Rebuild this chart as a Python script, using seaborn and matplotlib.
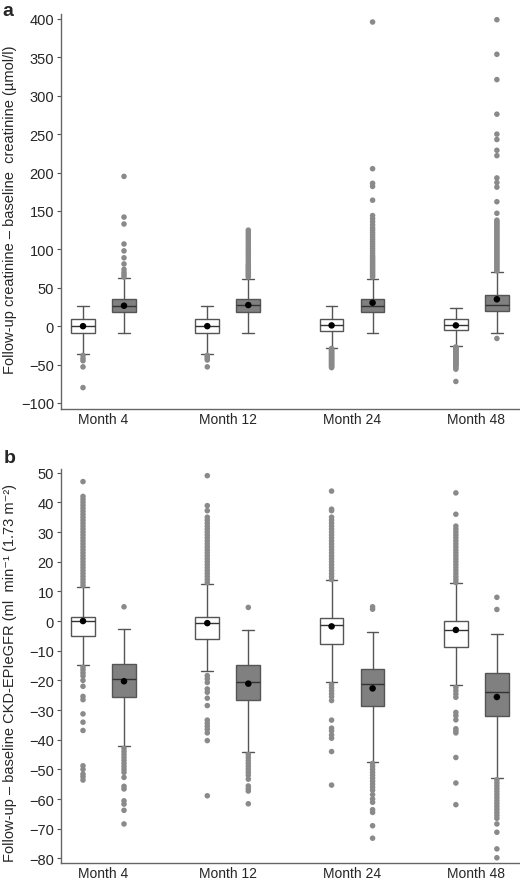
import numpy as np
import pandas as pd
import seaborn as sns
import matplotlib.pyplot as plt

months = ["Month 4", "Month 12", "Month 24", "Month 48"]

# panel a: follow-up - baseline creatinine (umol/l)
# open boxes
cr_open_q1 = [-8.7, -8.7, -6.0, -5.6]
cr_open_med = [0.0, 0.0, 1.0, 1.0]
cr_open_q3 = [9.0, 9.0, 9.0, 9.0]
cr_open_lo = [-35.6, -35.6, -28.0, -25.6]
cr_open_hi = [26.6, 26.6, 26.6, 23.5]
cr_open_mean = [0.0, 0.0, 1.0, 1.0]
cr_open_out = [
    [-38, -42, -45, -53, -80],
    [-38, -40, -42, -44, -53],
    [-29, -30, -31, -32, -33, -34, -35, -36, -37, -38, -39, -40, -41, -42,
     -43, -44, -45, -46, -47, -48, -49, -50, -51, -52, -53, -54],
    [-27, -28, -29, -30, -31, -32, -33, -34, -35, -36, -37, -38, -39, -40,
     -41, -42, -43, -44, -45, -46, -47, -48, -49, -50, -51, -52, -54, -56, -72],
]
# filled boxes
cr_fill_q1 = [17.9, 17.9, 17.9, 19.6]
cr_fill_med = [26.6, 27.0, 26.6, 28.0]
cr_fill_q3 = [36.0, 36.0, 36.0, 40.5]
cr_fill_lo = [-8.7, -8.7, -8.7, -8.7]
cr_fill_hi = [62.2, 62.0, 62.0, 70.0]
cr_fill_mean = [26.6, 27.5, 30.5, 35.0]
cr_fill_out = [
    [64, 67, 70, 74, 81, 89, 98, 107, 133, 142, 195],
    [64, 66, 68, 70, 72, 74, 76, 78, 80, 83, 86, 89, 92, 95, 98, 101, 104,
     107, 110, 113, 116, 119, 122, 125],
    [64, 66, 68, 70, 72, 74, 76, 78, 80, 82, 84, 86, 88, 90, 92, 95, 98, 101,
     104, 107, 110, 113, 116, 119, 122, 125, 128, 132, 136, 140, 144, 164,
     182, 186, 205, 396],
    [-16, 72, 74, 76, 78, 80, 82, 84, 86, 88, 90, 92, 94, 96, 98, 100, 102,
     104, 106, 108, 110, 112, 114, 116, 118, 120, 122, 124, 126, 128, 130,
     132, 134, 136, 138, 147, 162, 181, 187, 193, 222, 229, 243, 250, 276,
     321, 354, 399],
]

# panel b: follow-up - baseline CKD-EPI eGFR
gf_open_q1 = [-5.0, -6.0, -7.7, -8.8]
gf_open_med = [-0.1, -0.6, -1.5, -3.1]
gf_open_q3 = [1.5, 1.5, 1.0, -0.1]
gf_open_lo = [-14.7, -17.0, -20.7, -21.5]
gf_open_hi = [11.4, 12.5, 13.9, 12.8]
gf_open_mean = [0.0, -0.7, -1.8, -3.0]
gf_open_out = [
    [12, 13, 14, 15, 16, 17, 18, 19, 20, 21, 22, 23, 24, 25, 26, 27, 28, 29,
     30, 31, 32, 33, 34, 35, 36, 37, 38, 39, 40, 41, 42, 47,
     -15.6, -16.5, -17.5, -18.5, -20, -22, -25.4, -26.5, -31.3, -34.1,
     -36.9, -48.8, -50, -51.6, -52.5, -53.6],
    [13, 14, 15, 16, 17, 18, 19, 20, 21, 22, 23, 24, 25, 26, 27, 28, 29, 30,
     31, 32, 33, 34, 35, 37.2, 38.9, 49,
     -18.4, -19.5, -20.7, -22.9, -24, -26, -28.5, -33.4, -34.5, -35.5,
     -36.5, -37.7, -40.3, -58.9],
    [14, 15, 16, 17, 18, 19, 20, 21, 22, 23, 24, 25, 26, 27, 28, 29, 30, 31,
     32, 33, 34, 35, 37.2, 37.7, 43.8,
     -21.5, -22.5, -23.5, -24.5, -25.5, -26.8, -33.4, -36.1, -37, -38.4,
     -39.5, -44, -55.3],
    [13, 14, 15, 16, 17, 18, 19, 20, 21, 22, 23, 24, 25, 26, 27, 28, 29, 30,
     31, 32, 36, 43.2,
     -22.4, -23.5, -24.6, -25.7, -30.8, -31.9, -33.3, -36.3, -37, -37.7,
     -46, -54.6, -61.9],
]
gf_fill_q1 = [-25.6, -26.5, -28.5, -31.9]
gf_fill_med = [-19.5, -20.4, -21.2, -24.0]
gf_fill_q3 = [-14.5, -14.7, -16.0, -17.6]
gf_fill_lo = [-42.2, -44.2, -47.4, -53.0]
gf_fill_hi = [-2.8, -3.0, -3.6, -4.5]
gf_fill_mean = [-20.3, -21.1, -22.7, -25.6]
gf_fill_out = [
    [4.8, -43, -44, -45, -46, -47, -48, -49, -50, -51, -52.7, -55.7, -56.6,
     -60.6, -61.7, -63.8, -68.4],
    [4.6, -45, -46, -47, -48, -49, -50, -51, -52, -53.3, -55.6, -56.5,
     -57.3, -61.6],
    [4.8, 4.0, -48, -49, -50, -51, -52, -53, -54, -55, -56, -57, -58.5,
     -60, -61.1, -63.6, -64.5, -69, -73.2],
    [8.0, 3.9, -53.5, -54.5, -55.5, -56.5, -57.5, -58.5, -59.5, -60.5,
     -61.5, -62.5, -63.5, -64.5, -65.5, -66.5, -68.4, -71.2, -76.8, -79.8],
]

sns.set_style("ticks")
plt.rcParams['font.family'] = ['Liberation Sans', 'DejaVu Sans']

EDGE = '#555555'
FILL = '#808080'
DOT = '#8a8a8a'
group_x = np.arange(len(months))
offset = 0.165
width = 0.19


def draw_panel(ax, series):
    for (q1, med, q3, lo, hi, mean, out), face, sign in series:
        pos = group_x + sign * offset
        stats = []
        for i in range(len(months)):
            stats.append(dict(q1=q1[i], med=med[i], q3=q3[i], whislo=lo[i],
                              whishi=hi[i], mean=mean[i], fliers=[]))
        ax.bxp(stats, positions=pos, widths=width, patch_artist=True,
               showfliers=False, showmeans=False, manage_ticks=False,
               boxprops=dict(facecolor=face, edgecolor=EDGE, linewidth=1),
               medianprops=dict(color='#333333', linewidth=1),
               whiskerprops=dict(color=EDGE, linewidth=1),
               capprops=dict(color=EDGE, linewidth=1))
        pts = pd.DataFrame({'x': np.repeat(pos, [len(o) for o in out]),
                            'y': np.concatenate([np.array(o, float) for o in out])})
        sns.scatterplot(data=pts, x='x', y='y', color=DOT, s=16,
                        edgecolor='none', ax=ax, zorder=3)
        mn = pd.DataFrame({'x': pos, 'y': mean})
        sns.scatterplot(data=mn, x='x', y='y', color='black', s=22,
                        edgecolor='none', ax=ax, zorder=5)
    ax.set_xlim(-0.342, 3.351)
    ax.set_xticks(group_x)
    ax.set_xticklabels(months, fontsize=10)
    ax.tick_params(axis='x', length=0, pad=2)
    ax.tick_params(axis='y', length=3, width=0.8, color='#555555',
                   labelsize=10.5, pad=2)
    ax.set_xlabel('')
    ax.set_ylabel('')
    sns.despine(ax=ax)
    for s in ['left', 'bottom']:
        ax.spines[s].set_color('#666666')
        ax.spines[s].set_linewidth(1)


fig = plt.figure(figsize=(5.2, 8.79), dpi=100)
ax1 = fig.add_axes([0.1173, 0.5336, 0.8827, 0.4494])
ax2 = fig.add_axes([0.1173, 0.0171, 0.8827, 0.4482])

draw_panel(ax1, [
    ((cr_open_q1, cr_open_med, cr_open_q3, cr_open_lo, cr_open_hi,
      cr_open_mean, cr_open_out), 'white', -1),
    ((cr_fill_q1, cr_fill_med, cr_fill_q3, cr_fill_lo, cr_fill_hi,
      cr_fill_mean, cr_fill_out), FILL, 1),
])
ax1.set_ylim(-107.8, 406.5)
ax1.set_yticks(np.arange(-100, 401, 50))

draw_panel(ax2, [
    ((gf_open_q1, gf_open_med, gf_open_q3, gf_open_lo, gf_open_hi,
      gf_open_mean, gf_open_out), 'white', -1),
    ((gf_fill_q1, gf_fill_med, gf_fill_q3, gf_fill_lo, gf_fill_hi,
      gf_fill_mean, gf_fill_out), FILL, 1),
])
ax2.set_ylim(-81.55, 51.25)
ax2.set_yticks(np.arange(-80, 51, 10))

fig.text(10 / 520, 1 - 210 / 879,
         'Follow-up creatinine \u2013 baseline  creatinine (\u00b5mol/l)',
         rotation=90, ha='center', va='center', fontsize=10.5)
fig.text(10 / 520, 1 - 673 / 879,
         'Follow-up \u2013 baseline CKD-EPIeGFR (ml  min\u207b\u00b9 (1.73 m\u207b\u00b2)',
         rotation=90, ha='center', va='center', fontsize=10.5)
fig.text(2 / 520, 1 - 12 / 879, 'a', fontsize=14, fontweight='bold',
         ha='left', va='center')
fig.text(4 / 520, 1 - 459 / 879, 'b', fontsize=14, fontweight='bold',
         ha='left', va='center')

fig.savefig('out.png', dpi=100)
